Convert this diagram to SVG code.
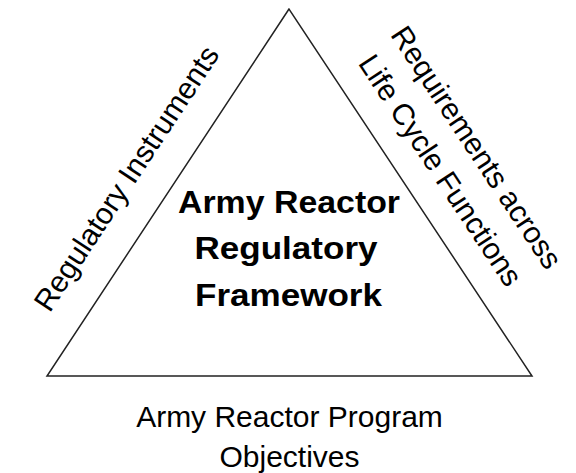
<svg xmlns="http://www.w3.org/2000/svg" width="576" height="473" viewBox="0 0 576 473">
<style>
.t{font-family:"Liberation Sans",Arial,sans-serif;fill:#000}
.r{font-size:30px}
.b{font-size:32px;font-weight:bold}
</style>
<rect width="576" height="473" fill="#fff"/>
<g id="triangle">
<polygon points="289,9 47,376 532,376" fill="none" stroke="#222" stroke-width="1.5"/>
</g>
<g id="center-label">
<text class="t b" text-anchor="middle" x="289" y="213" textLength="222" lengthAdjust="spacingAndGlyphs">Army Reactor</text>
<text class="t b" text-anchor="middle" x="286" y="259" textLength="183" lengthAdjust="spacingAndGlyphs">Regulatory</text>
<text class="t b" text-anchor="middle" x="288.5" y="306" textLength="187" lengthAdjust="spacingAndGlyphs">Framework</text>
</g>
<g id="left-label">
<text class="t r" text-anchor="middle" transform="translate(135,184) rotate(-56.6)">Regulatory Instruments</text>
</g>
<g id="right-label">
<text class="t r" text-anchor="middle" transform="translate(468,153) rotate(56.5)">Requirements across</text>
<text class="t r" text-anchor="middle" transform="translate(432,176) rotate(56.5)">Life Cycle Functions</text>
</g>
<g id="bottom-label">
<text class="t r" text-anchor="middle" x="289.5" y="427">Army Reactor Program</text>
<text class="t r" text-anchor="middle" x="289.5" y="467">Objectives</text>
</g>
</svg>
